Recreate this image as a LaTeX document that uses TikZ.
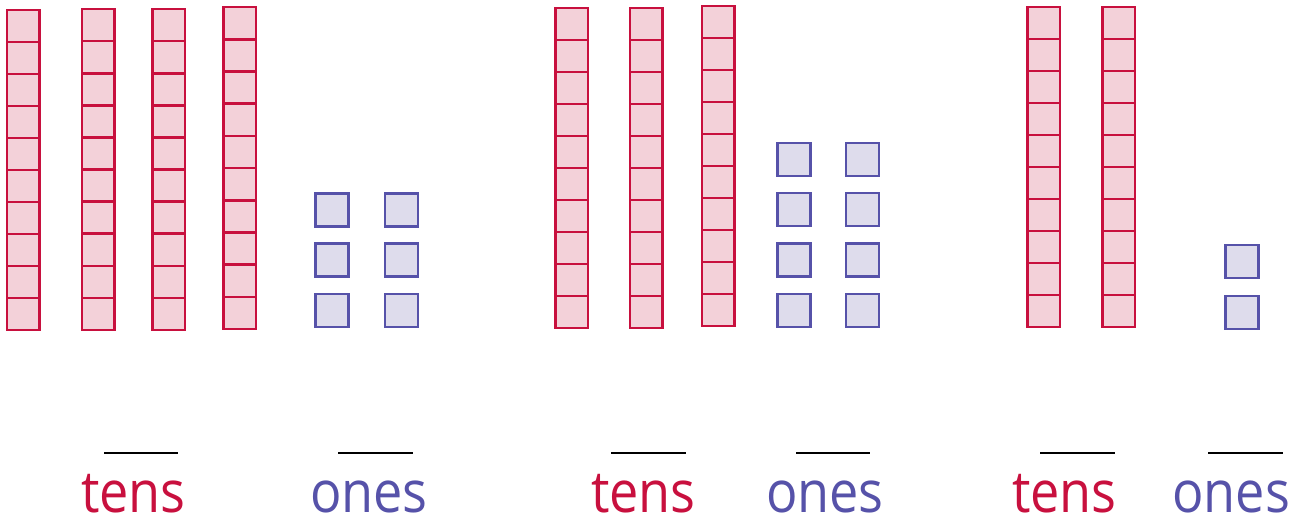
\documentclass[tikz,border=0pt]{standalone}
\usepackage{fontspec}
\setmainfont{Open Sans}
\definecolor{tenred}{HTML}{C8103E}
\definecolor{tenfill}{HTML}{F3D1D9}
\definecolor{oneblue}{HTML}{5652A9}
\definecolor{onefill}{HTML}{DEDCEC}
\newcommand\tenrod[3]{%
  \foreach \k in {0,...,9}{%
    \path[tencell] (#1,{#2+\k*(#3-#2)/10}) rectangle ++(32.5,{(#3-#2)/10});
  }%
}
\newcommand\onesq[2]{\path[onecell] (#1,#2) rectangle ++(33,33);}
\newcommand\lbltext[1]{\raisebox{0pt}[\height][0pt]{\scalebox{0.9}[1]{#1}}}
\tikzset{
  tencell/.style={draw=tenred,fill=tenfill,line width=2.6pt,line join=miter},
  onecell/.style={draw=oneblue,fill=onefill,line width=2.6pt},
  blank/.style={draw=black,line width=2.8pt},
  lbl/.style={anchor=base,inner sep=0pt,font=\fontsize{58}{60}\selectfont},
  tenslbl/.style={lbl,text=tenred},
  oneslbl/.style={lbl,text=oneblue}
}
\begin{document}
\begin{tikzpicture}[x=1pt,y=-1pt]
\useasboundingbox (0,0) rectangle (1303,517);
% group 1
\tenrod{7}{10}{330}
\tenrod{82}{9}{330}
\tenrod{152.5}{9}{330}
\tenrod{223.5}{7}{329}
\foreach \y in {193.5,243.5,294}{\onesq{315.5}{\y}\onesq{385}{\y}}
% group 2
\tenrod{555.5}{8}{328}
\tenrod{630}{8}{328}
\tenrod{702}{6}{326}
\foreach \y in {143,193,243.5,294}{\onesq{777.5}{\y}\onesq{846}{\y}}
% group 3
\tenrod{1027.5}{7}{327}
\tenrod{1102.5}{7}{327}
\onesq{1225.5}{245}
\onesq{1225.5}{296}
% blanks
\coordinate (a1) at (104,453); \coordinate (b1) at (178,453);
\coordinate (a2) at (338,453); \coordinate (b2) at (413,453);
\coordinate (a3) at (611,453); \coordinate (b3) at (686,453);
\coordinate (a4) at (796,453); \coordinate (b4) at (870,453);
\coordinate (a5) at (1040,453); \coordinate (b5) at (1115,453);
\coordinate (a6) at (1208,453); \coordinate (b6) at (1283,453);
\foreach \i in {1,...,6}{\draw[blank] (a\i) -- (b\i);}
% labels
\node[tenslbl] (t1) at (133.5,512) {\lbltext{tens}};
\node[oneslbl] (o1) at (369,512) {\lbltext{ones}};
\node[tenslbl] (t2) at (643.5,512) {\lbltext{tens}};
\node[oneslbl] (o2) at (825,512) {\lbltext{ones}};
\node[tenslbl] (t3) at (1064.5,512) {\lbltext{tens}};
\node[oneslbl] (o3) at (1231,512) {\lbltext{ones}};
\end{tikzpicture}
\end{document}
